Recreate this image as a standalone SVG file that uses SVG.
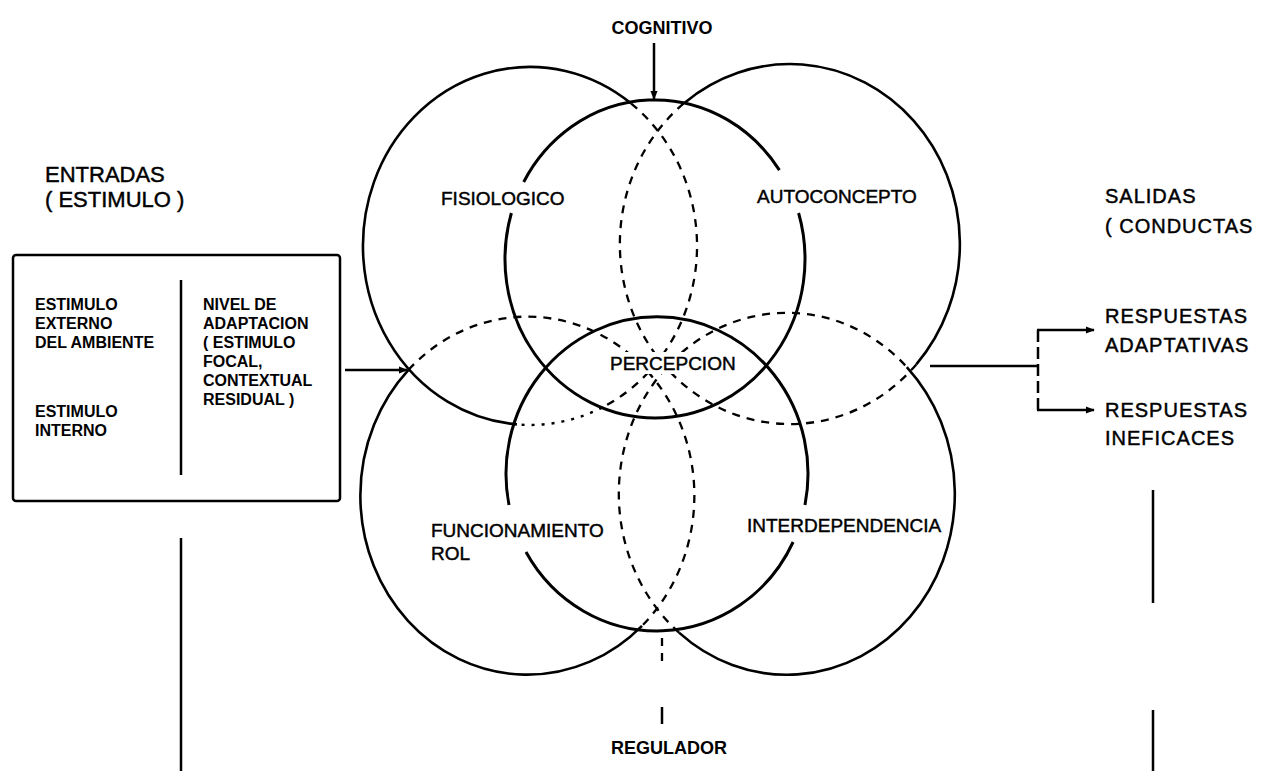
<svg xmlns="http://www.w3.org/2000/svg" width="1268" height="771" viewBox="0 0 1268 771">
<style>
  .s{fill:none;stroke:#000;stroke-width:2.6}
  .si{fill:none;stroke:#000;stroke-width:3}
  .d{fill:none;stroke:#000;stroke-width:2.3;stroke-dasharray:8 7}
  .o{fill:none;stroke:#000;stroke-width:2.4;stroke-dasharray:3 7}
  .ln{fill:none;stroke:#000;stroke-width:2.5}
  text{font-family:"Liberation Sans",Arial,sans-serif;fill:#000}
  .lab{font-size:19px;stroke:#000;stroke-width:0.45}
  .big{font-size:22px;stroke:#000;stroke-width:0.45}
  .box{font-size:16px;font-weight:bold}
  .bold{font-size:18px;font-weight:bold}
  .out{font-size:20px;letter-spacing:1px;stroke:#000;stroke-width:0.45}
</style>
<defs>
  <marker id="ah" viewBox="0 0 10 10" refX="9" refY="5" markerWidth="9" markerHeight="9" markerUnits="userSpaceOnUse" orient="auto">
    <path d="M0,1 L10,5 L0,9 Z" fill="#000"/>
  </marker>
</defs>
<rect width="1268" height="771" fill="#fff"/>

<g id="connectors">
  <line class="ln" x1="654" y1="43" x2="654" y2="99" marker-end="url(#ah)"/>
  <line class="ln" x1="345" y1="370" x2="407" y2="370" marker-end="url(#ah)"/>
  <line class="d" x1="662" y1="638" x2="662" y2="667"/>
  <line class="ln" x1="662" y1="707" x2="662" y2="724"/>
  <line class="ln" x1="930" y1="366" x2="1038" y2="366"/>
  <line class="ln" x1="1038" y1="330" x2="1038" y2="410" stroke-dasharray="12 5"/>
  <line class="ln" x1="1037" y1="330" x2="1094" y2="330" marker-end="url(#ah)"/>
  <line class="ln" x1="1037" y1="410" x2="1094" y2="410" marker-end="url(#ah)"/>
  <line class="ln" x1="181" y1="538" x2="181" y2="771"/>
  <line class="ln" x1="1153" y1="490" x2="1153" y2="603"/>
  <line class="ln" x1="1153" y1="710" x2="1153" y2="771"/>
</g>

<g id="entradas">
  <text class="big" x="45" y="182">ENTRADAS</text>
  <text class="big" x="45" y="207">( ESTIMULO )</text>
  <rect x="13" y="255" width="327" height="246" rx="3" class="ln"/>
  <line class="ln" x1="181" y1="280" x2="181" y2="475"/>
  <text class="box" x="35" y="310">ESTIMULO</text>
  <text class="box" x="35" y="329">EXTERNO</text>
  <text class="box" x="35" y="348">DEL AMBIENTE</text>
  <text class="box" x="35" y="417">ESTIMULO</text>
  <text class="box" x="35" y="436">INTERNO</text>
  <text class="box" x="203" y="310">NIVEL DE</text>
  <text class="box" x="203" y="329">ADAPTACION</text>
  <text class="box" x="203" y="348">( ESTIMULO</text>
  <text class="box" x="203" y="367">FOCAL,</text>
  <text class="box" x="203" y="386">CONTEXTUAL</text>
  <text class="box" x="203" y="405">RESIDUAL )</text>
</g>

<g id="fisiologico">
  <path class="s" d="M516.9,424.4 A167,179 0 1 1 631.2,103.6"/>
  <path class="d" d="M631.2,103.6 A167,179 0 0 1 601.9,407.6"/>
  <path class="o" d="M601.9,407.6 A167,179 0 0 1 516.9,424.4"/>
  <text class="lab" x="441" y="205">FISIOLOGICO</text>
</g>

<g id="autoconcepto">
  <path class="s" d="M684.4,102.9 A170,180 0 0 1 916.3,364.4"/>
  <path class="d" d="M916.3,364.4 A170,180 0 1 1 684.4,102.9"/>
  <text class="lab" x="757" y="203" font-size="18.5">AUTOCONCEPTO</text>
</g>

<g id="funcionamiento-rol">
  <path class="s" d="M642,625.8 A167,179 0 0 1 408.5,369.9"/>
  <path class="d" d="M408.5,369.9 A167,179 0 1 1 642,625.8"/>
  <text class="lab" x="431" y="537">FUNCIONAMIENTO</text>
  <text class="lab" x="431" y="560">ROL</text>
</g>

<g id="interdependencia">
  <path class="s" d="M906.8,367.1 A168,181 0 0 1 679,632.6"/>
  <path class="d" d="M679,632.6 A168,181 0 1 1 906.8,367.1"/>
  <text class="lab" x="747" y="532" font-size="18.5">INTERDEPENDENCIA</text>
</g>

<g id="percepcion">
  <path class="si" d="M523.7,182 A150,159 0 0 1 779.4,170.1"/>
  <path class="si" d="M798.6,213 A150,159 0 1 1 511.4,213"/>
  <path class="si" d="M793.1,542 A151,157 0 0 1 526,552"/>
  <path class="si" d="M509,505 A151,157 0 1 1 805,505"/>
  <rect x="606" y="352" width="126" height="22" fill="#fff"/>
  <text class="lab" x="610" y="370" font-size="18">PERCEPCION</text>
</g>

<g id="cognitivo">
  <text class="bold" x="662" y="34" text-anchor="middle" font-size="19">COGNITIVO</text>
</g>

<g id="regulador">
  <text class="bold" x="669" y="754" text-anchor="middle">REGULADOR</text>
</g>

<g id="salidas">
  <text class="out" x="1105" y="203">SALIDAS</text>
  <text class="out" x="1105" y="233">( CONDUCTAS</text>
</g>

<g id="respuestas-adaptativas">
  <text class="out" x="1105" y="323">RESPUESTAS</text>
  <text class="out" x="1105" y="352">ADAPTATIVAS</text>
</g>

<g id="respuestas-ineficaces">
  <text class="out" x="1105" y="417">RESPUESTAS</text>
  <text class="out" x="1105" y="445">INEFICACES</text>
</g>
</svg>
